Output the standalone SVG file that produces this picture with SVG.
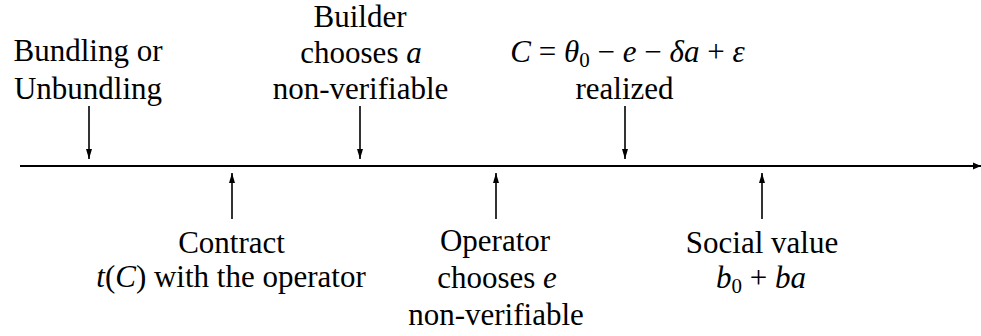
<svg xmlns="http://www.w3.org/2000/svg" width="981" height="336" viewBox="0 0 981 336">
<style>
text{font-family:'Liberation Serif','Times New Roman',serif;font-size:31px;fill:#000;text-anchor:middle}
.i{font-style:italic}
.s{font-size:21px}
.c{stroke:#000;stroke-width:1.6;fill:none}
.axis{stroke:#000;stroke-width:2.2;fill:none}
</style>
<defs>
<marker id="ah" markerUnits="userSpaceOnUse" markerWidth="12" markerHeight="8" refX="10" refY="4" orient="auto">
<path d="M0,1 L10,4 L0,7 Z" fill="#000"/>
</marker>
<marker id="ah2" markerUnits="userSpaceOnUse" markerWidth="10" markerHeight="8" refX="8" refY="4" orient="auto">
<path d="M0,0.5 L8,4 L0,7.5 Z" fill="#000"/>
</marker>
</defs>
<g id="connectors">
<line class="axis" x1="20" y1="166" x2="981" y2="166" marker-end="url(#ah2)"/>
<line class="c" x1="89" y1="106" x2="89" y2="159" marker-end="url(#ah)"/>
<line class="c" x1="360" y1="106" x2="360" y2="159" marker-end="url(#ah)"/>
<line class="c" x1="625" y1="106" x2="625" y2="159" marker-end="url(#ah)"/>
<line class="c" x1="232" y1="219" x2="232" y2="173" marker-end="url(#ah)"/>
<line class="c" x1="496" y1="219" x2="496" y2="173" marker-end="url(#ah)"/>
<line class="c" x1="762" y1="219" x2="762" y2="173" marker-end="url(#ah)"/>
</g>
<g id="bundling">
<text x="88" y="61">Bundling or</text>
<text x="88" y="99">Unbundling</text>
</g>
<g id="builder">
<text x="360" y="27">Builder</text>
<text x="361" y="63">chooses <tspan class="i">a</tspan></text>
<text x="360.5" y="99">non-verifiable</text>
</g>
<g id="realized">
<text x="627.5" y="62"><tspan class="i">C</tspan> = <tspan class="i">θ</tspan><tspan class="s" dy="5">0</tspan><tspan dy="-5"> − </tspan><tspan class="i">e</tspan> − <tspan class="i">δa</tspan> + <tspan class="i">ε</tspan></text>
<text x="624.5" y="99">realized</text>
</g>
<g id="contract">
<text x="231.5" y="253">Contract</text>
<text x="231" y="287"><tspan class="i">t</tspan>(<tspan class="i">C</tspan>) with the operator</text>
</g>
<g id="operator">
<text x="495" y="251">Operator</text>
<text x="497" y="288">chooses <tspan class="i">e</tspan></text>
<text x="496" y="325">non-verifiable</text>
</g>
<g id="social">
<text x="762" y="253">Social value</text>
<text x="761" y="288"><tspan class="i">b</tspan><tspan class="s" dy="5">0</tspan><tspan dy="-5"> + </tspan><tspan class="i">ba</tspan></text>
</g>
</svg>
